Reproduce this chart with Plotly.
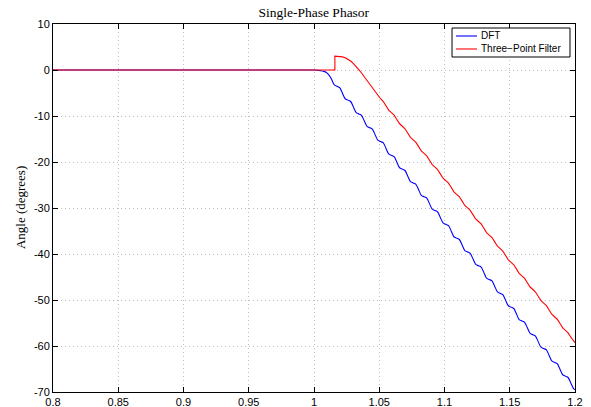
import plotly.graph_objects as go

# shared time grid (s), quarter-period spacing of the ripple
t_grid = [
    1.0135, 1.0156, 1.0177, 1.0197, 1.0218, 1.0239, 1.0260, 1.0281, 1.0302, 1.0323,
    1.0343, 1.0364, 1.0385, 1.0406, 1.0427, 1.0447, 1.0468, 1.0489, 1.0510, 1.0531,
    1.0552, 1.0572, 1.0593, 1.0614, 1.0635, 1.0656, 1.0677, 1.0697, 1.0718, 1.0739,
    1.0760, 1.0781, 1.0802, 1.0822, 1.0843, 1.0864, 1.0885, 1.0906, 1.0927, 1.0947,
    1.0968, 1.0989, 1.1010, 1.1031, 1.1052, 1.1072, 1.1093, 1.1114, 1.1135, 1.1156,
    1.1177, 1.1197, 1.1218, 1.1239, 1.1260, 1.1281, 1.1302, 1.1322, 1.1343, 1.1364,
    1.1385, 1.1406, 1.1427, 1.1447, 1.1468, 1.1489, 1.1510, 1.1531, 1.1552, 1.1572,
    1.1593, 1.1614, 1.1635, 1.1656, 1.1677, 1.1697, 1.1718, 1.1739, 1.1760, 1.1781,
    1.1802, 1.1822, 1.1843, 1.1864, 1.1885, 1.1906, 1.1927, 1.1947, 1.1968, 1.1989,
    1.2000,
]

# DFT angle (degrees)
dft_prefix_t = [0.8, 1.0, 1.0025, 1.005, 1.0075, 1.0095, 1.0115]
dft_prefix_v = [0, 0, -0.05, -0.15, -0.3, -0.55, -1.1]
dft_v = [
    -2.05, -3.25, -3.55, -3.85, -5.05, -6.25, -6.55, -6.85, -8.05, -9.25,
    -9.55, -9.85, -11.05, -12.25, -12.55, -12.85, -14.05, -15.25, -15.55, -15.85,
    -17.05, -18.25, -18.55, -18.85, -20.05, -21.25, -21.55, -21.85, -23.05, -24.25,
    -24.55, -24.85, -26.05, -27.25, -27.55, -27.85, -29.05, -30.25, -30.55, -30.85,
    -32.05, -33.25, -33.55, -33.85, -35.05, -36.25, -36.55, -36.85, -38.05, -39.25,
    -39.55, -39.85, -41.05, -42.25, -42.55, -42.85, -44.05, -45.25, -45.55, -45.85,
    -47.05, -48.25, -48.55, -48.85, -50.05, -51.25, -51.55, -51.85, -53.05, -54.25,
    -54.55, -54.85, -56.05, -57.25, -57.55, -57.85, -59.05, -60.25, -60.55, -60.85,
    -62.05, -63.25, -63.55, -63.85, -65.05, -66.25, -66.55, -66.85, -68.05, -69.25,
    -69.5,
]

# Three-Point Filter angle (degrees); main part sampled on t_grid[2:]
tpf_prefix_t = [0.8, 1.016, 1.016]
tpf_prefix_v = [0, 0, 3.0]
tpf_v = [
    3.0, 2.95, 2.85, 2.65, 2.35, 1.95, 1.4, 0.8,
    0.1, -0.65, -1.45, -2.25, -3.05, -3.8, -4.6, -5.55, -6.25, -6.85,
    -7.79, -8.73, -9.27, -9.81, -10.75, -11.69, -12.23, -12.77, -13.71, -14.65,
    -15.19, -15.73, -16.66, -17.60, -18.14, -18.68, -19.62, -20.56, -21.10, -21.64,
    -22.58, -23.52, -24.06, -24.60, -25.54, -26.48, -27.02, -27.56, -28.50, -29.44,
    -29.98, -30.52, -31.45, -32.39, -32.93, -33.47, -34.41, -35.35, -35.89, -36.43,
    -37.37, -38.31, -38.85, -39.39, -40.33, -41.27, -41.81, -42.35, -43.29, -44.23,
    -44.77, -45.31, -46.24, -47.18, -47.72, -48.26, -49.20, -50.14, -50.68, -51.22,
    -52.16, -53.10, -53.64, -54.18, -55.12, -56.06, -56.60, -57.14, -58.08, -59.02,
    -59.3,
]

series_names = ["DFT", "Three\u2212Point Filter"]
series_colors = ["#0000ff", "#ff0000"]

x_ticks = [0.8, 0.85, 0.9, 0.95, 1.0, 1.05, 1.1, 1.15, 1.2]
x_tick_text = ["0.8", "0.85", "0.9", "0.95", "1", "1.05", "1.1", "1.15", "1.2"]
y_ticks = [10, 0, -10, -20, -30, -40, -50, -60, -70]
y_tick_text = ["10", "0", "-10", "-20", "-30", "-40", "-50", "-60", "-70"]

fig = go.Figure()
fig.add_trace(go.Scatter(
    x=dft_prefix_t + t_grid, y=dft_prefix_v + dft_v, mode="lines", name=series_names[0],
    line=dict(color=series_colors[0], width=1.1, shape="spline", smoothing=0.8),
))
fig.add_trace(go.Scatter(
    x=tpf_prefix_t + t_grid[2:], y=tpf_prefix_v + tpf_v, mode="lines",
    name=series_names[1],
    line=dict(color=series_colors[1], width=1.1),
))

axis_common = dict(
    showline=True, linecolor="black", linewidth=1, mirror="ticks",
    ticks="inside", ticklen=5, tickcolor="black", tickwidth=1,
    showgrid=True, gridcolor="#bdbdbd", griddash="1px,3px", gridwidth=1,
    zeroline=False, automargin=False,
    tickfont=dict(family="Liberation Sans, Arial, sans-serif", size=11, color="black"),
)
fig.update_xaxes(range=[0.8, 1.2], tickvals=x_ticks, ticktext=x_tick_text, **axis_common)
fig.update_yaxes(range=[-70, 10], tickvals=y_ticks, ticktext=y_tick_text, **axis_common)

# compact MATLAB-style legend box (paper coordinates)
legend_box = dict(x0=0.7644, x1=0.9904, y0=0.9103, y1=0.9891)
legend_rows_y = [0.9674, 0.9321]
legend_line_x = [0.7720, 0.8123]
legend_text_x = 0.8161

shapes = [dict(type="rect", xref="paper", yref="paper", layer="above",
               fillcolor="white", line=dict(color="black", width=1), **legend_box)]
annotations = [dict(text="Angle (degrees)", xref="paper", yref="paper",
                    x=-0.063, y=0.5, xanchor="center", yanchor="middle",
                    textangle=-90, showarrow=False,
                    font=dict(family="Liberation Serif, DejaVu Serif, serif", size=13, color="black"))]
for name, color, ry in zip(series_names, series_colors, legend_rows_y):
    shapes.append(dict(type="line", xref="paper", yref="paper", layer="above",
                       x0=legend_line_x[0], x1=legend_line_x[1], y0=ry, y1=ry,
                       line=dict(color=color, width=1.1)))
    annotations.append(dict(text=name, xref="paper", yref="paper", x=legend_text_x, y=ry,
                            xanchor="left", yanchor="middle", showarrow=False,
                            font=dict(family="Liberation Sans, Arial, sans-serif", size=10, color="black")))

fig.update_layout(
    width=591, height=407,
    margin=dict(l=53, r=16, t=24, b=15),
    paper_bgcolor="white", plot_bgcolor="white",
    title=dict(text="Single-Phase Phasor", x=0.531, xanchor="center",
               y=1 - 12 / 407, yanchor="middle", yref="container",
               font=dict(family="Liberation Serif, DejaVu Serif, serif", size=13.5, color="black")),
    showlegend=False,
    shapes=shapes,
    annotations=annotations,
)

fig.write_html("out.html")
